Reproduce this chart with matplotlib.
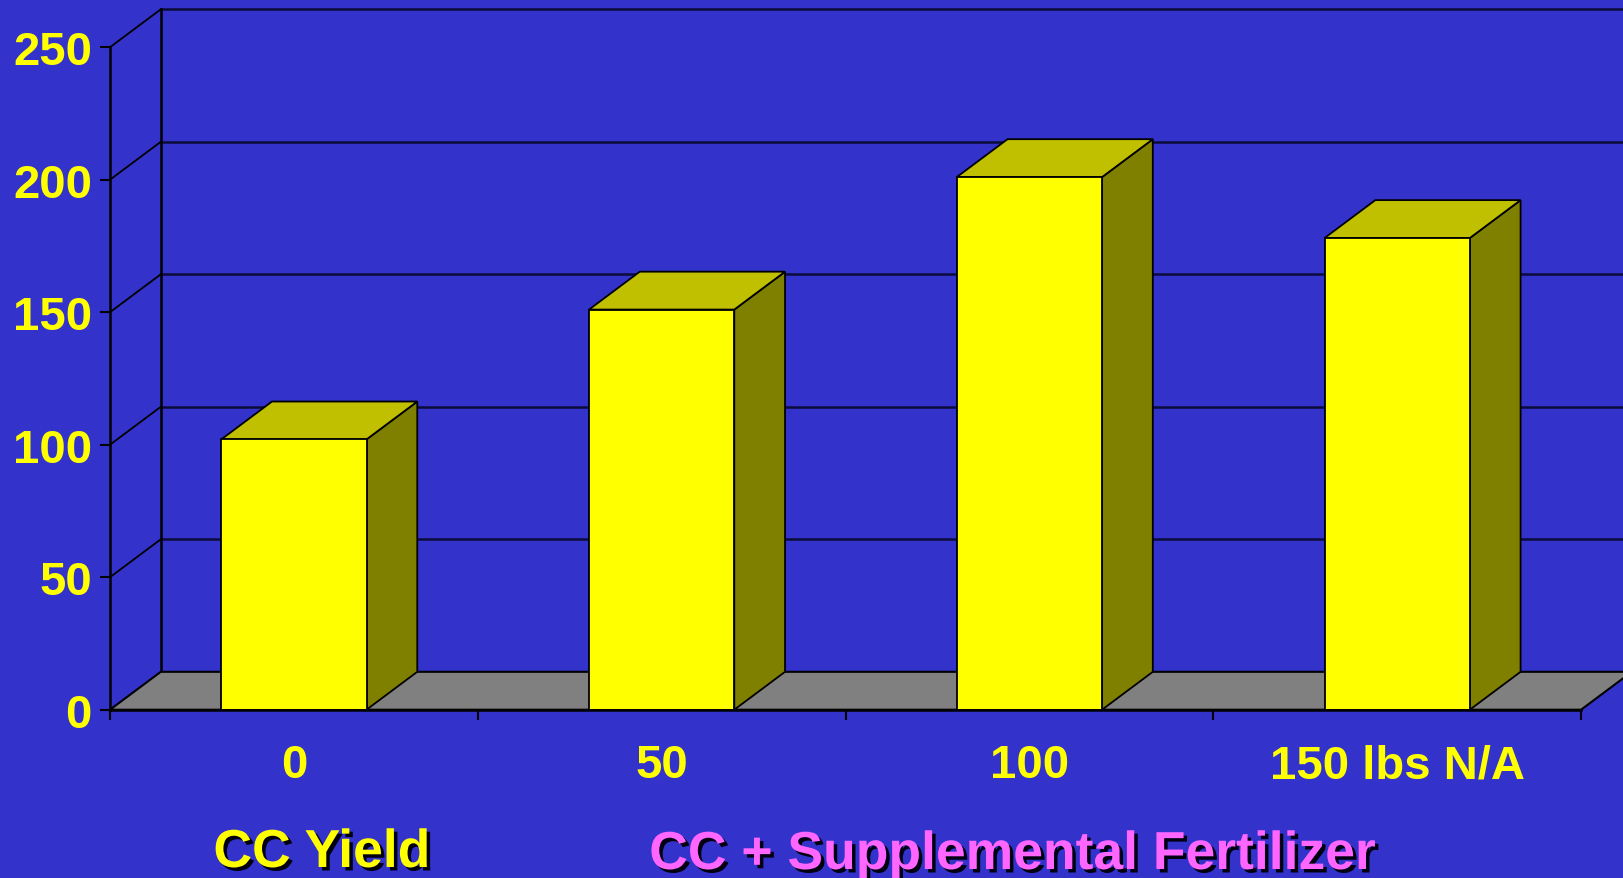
import matplotlib.pyplot as plt
import matplotlib.patheffects as pe
from matplotlib.patches import Polygon

plt.rcParams['font.family'] = ['Liberation Sans', 'DejaVu Sans']
plt.rcParams['font.weight'] = 'bold'

categories = ["0", "50", "100", "150 lbs N/A"]
values = [102, 151, 201, 178]
yticks = [0, 50, 100, 150, 200, 250]

bg = '#3333cc'
yellow = '#ffff00'
W, H = 1623, 879

# 3d look: depth offset in data units
dx, dy = 0.138, 14.3
bw = 0.395

fig = plt.figure(figsize=(W / 100, H / 100), dpi=100, facecolor=bg)
ax = fig.add_axes([110 / W, 1 - 710.7 / H, 1 - 110 / W, 710.7 / H])
ax.set_facecolor(bg)
ax.set_xlim(-0.5, 3.614)
ax.set_ylim(0, 268.2)

x0, x1 = -0.5, len(categories) - 0.5

# back wall grid + side wall diagonals
for t in yticks[1:]:
    ax.plot([x0, x0 + dx], [t, t + dy], color='black', lw=1.3, zorder=1)
    ax.plot([x0 + dx, 5], [t + dy, t + dy], color='#0c0c3a', lw=1.8, zorder=1)
ax.plot([x0 + dx, x0 + dx], [dy, yticks[-1] + dy], color='black', lw=1.8, zorder=1)

# floor
floor = Polygon([(x0, 0), (x1, 0), (x1 + dx, dy), (x0 + dx, dy)], closed=True,
                facecolor='#808080', edgecolor='black', lw=1.5, zorder=2, clip_on=False)
ax.add_patch(floor)

# bars
for i, v in enumerate(values):
    xl, xr = i - bw / 2, i + bw / 2
    side = Polygon([(xr, 0), (xr + dx, dy), (xr + dx, v + dy), (xr, v)],
                   facecolor='#808000', edgecolor='black', lw=1.3, zorder=3)
    top = Polygon([(xl, v), (xr, v), (xr + dx, v + dy), (xl + dx, v + dy)],
                  facecolor='#c0c000', edgecolor='black', lw=1.3, zorder=3)
    front = Polygon([(xl, 0), (xr, 0), (xr, v), (xl, v)],
                    facecolor=yellow, edgecolor='black', lw=1.3, zorder=4)
    for p in (side, top, front):
        ax.add_patch(p)

for s in ['top', 'right']:
    ax.spines[s].set_visible(False)
ax.spines['left'].set_bounds(0, yticks[-1])
ax.spines['bottom'].set_bounds(x0, x1)
for s in ['left', 'bottom']:
    ax.spines[s].set_linewidth(1.8)
    ax.spines[s].set_zorder(5)

ax.set_yticks(yticks)
ax.set_yticklabels([str(t) for t in yticks])
ax.tick_params(axis='y', direction='out', length=7, width=1.5, pad=6,
               labelsize=34, labelcolor=yellow)

ax.set_xticks([x0 + k for k in range(len(categories) + 1)])
ax.set_xticklabels([])
ax.set_xticks(range(len(categories)), minor=True)
ax.set_xticklabels(categories, minor=True)
ax.tick_params(axis='x', which='major', direction='out', length=7, width=1.5)
ax.tick_params(axis='x', which='minor', length=0, pad=24, labelsize=34,
               labelcolor=yellow)

shadow = [pe.SimplePatchShadow(offset=(2.5, -2.5), shadow_rgbFace='#000011', alpha=1),
          pe.Normal()]
fig.text(322 / W, 1 - 854 / H, "CC Yield", color=yellow, fontsize=38.5,
         ha='center', va='center', path_effects=shadow)
fig.text(1013 / W, 1 - 856 / H, "CC + Supplemental Fertilizer", color='#ff66ff',
         fontsize=38.5, ha='center', va='center', path_effects=shadow)

fig.savefig('out.png', dpi=100, facecolor=bg)
